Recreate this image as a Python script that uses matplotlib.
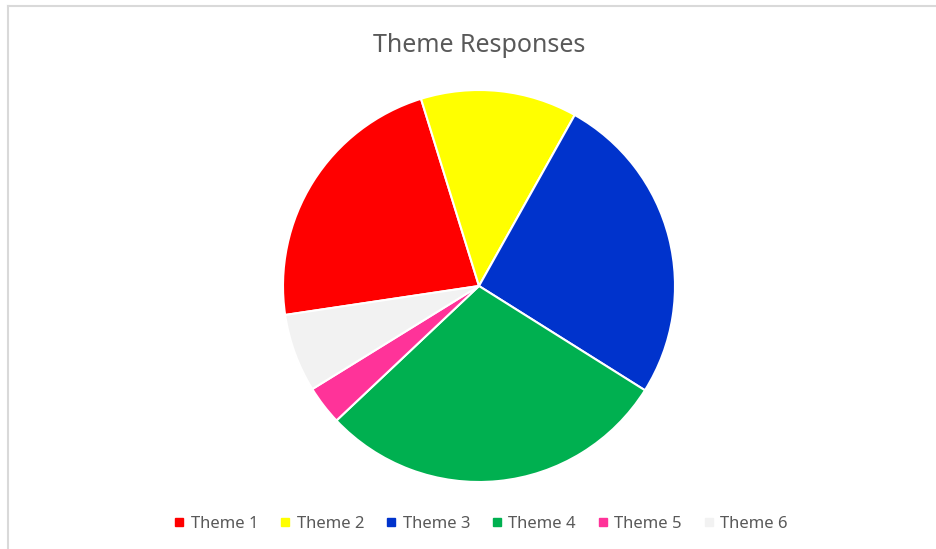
import matplotlib.pyplot as plt
from matplotlib.lines import Line2D

# Theme response counts
themes = ['Theme 1', 'Theme 2', 'Theme 3', 'Theme 4', 'Theme 5', 'Theme 6']
responses = [7, 4, 8, 9, 1, 2]
colors = ['#FF0000', '#FFFF00', '#0033CC', '#00B050', '#FF3399', '#F2F2F2']

plt.rcParams['font.family'] = ['Noto Sans', 'DejaVu Sans']
text_grey = '#595959'

W, H = 937, 549
fig = plt.figure(figsize=(W / 100, H / 100), dpi=100)

# light grey chart frame (top and left edges visible)
fig.add_artist(Line2D([8 / W, 8 / W], [0, 1 - 6 / H], color='#D9D9D9', lw=1.5))
fig.add_artist(Line2D([8 / W, 1], [1 - 6 / H, 1 - 6 / H], color='#D9D9D9', lw=1.5))

# pie centred at (479, 286) px with radius 196 px
cx, cy, r = 479, 286, 196
ax = fig.add_axes([(cx - r) / W, (H - cy - r) / H, 2 * r / W, 2 * r / H])
ax.pie(responses, colors=colors, startangle=188.5, counterclock=False,
       radius=1, wedgeprops=dict(edgecolor='white', linewidth=1.5))
ax.set_xlim(-1, 1)
ax.set_ylim(-1, 1)
ax.set_aspect('equal')
ax.axis('off')

fig.text(cx / W, 1 - 45 / H, 'Theme Responses', ha='center', va='center',
         fontsize=18, color=text_grey)

handles = [Line2D([], [], marker='s', linestyle='', markersize=5.5,
                  markerfacecolor=c, markeredgecolor=c) for c in colors]
fig.legend(handles, themes, loc='center', bbox_to_anchor=(481 / W, 1 - 524 / H),
           ncol=6, frameon=False, handlelength=0.6, handletextpad=0.4,
           columnspacing=1.3, labelcolor=text_grey, fontsize=12)

fig.savefig('out.png', dpi=100)
